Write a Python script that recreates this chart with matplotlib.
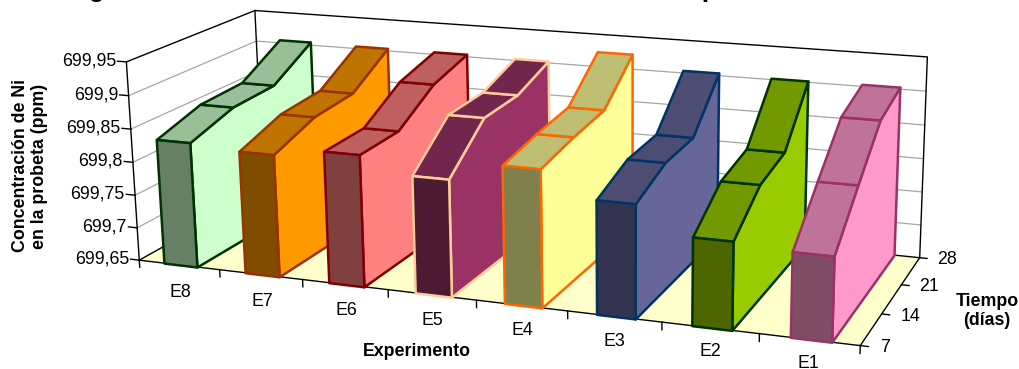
import numpy as np
import matplotlib
matplotlib.use('Agg')
import matplotlib.pyplot as plt
from matplotlib.colors import to_rgb
from mpl_toolkits.mplot3d import proj3d
from mpl_toolkits.mplot3d.art3d import Poly3DCollection

plt.rcParams['font.family'] = ['Liberation Sans', 'DejaVu Sans']

experimentos = ['E8', 'E7', 'E6', 'E5', 'E4', 'E3', 'E2', 'E1']
dias = [7, 14, 21, 28]
ticks_conc = [699.65, 699.70, 699.75, 699.80, 699.85, 699.90, 699.95]
etiquetas_conc = ['699,65', '699,7', '699,75', '699,8', '699,85', '699,9', '699,95']

# concentracion de Ni por experimento, un valor por cada tiempo de "dias"
conc_e8 = [699.838, 699.860, 699.864, 699.905]
conc_e7 = [699.832, 699.856, 699.862, 699.904]
conc_e6 = [699.844, 699.846, 699.886, 699.904]
conc_e5 = [699.821, 699.877, 699.880, 699.903]
conc_e4 = [699.848, 699.860, 699.868, 699.923]
conc_e3 = [699.812, 699.835, 699.838, 699.904]
conc_e2 = [699.774, 699.816, 699.828, 699.902]
conc_e1 = [699.768, 699.828, 699.886, 699.903]
series = [conc_e8, conc_e7, conc_e6, conc_e5, conc_e4, conc_e3, conc_e2, conc_e1]

relleno = ['#CCFFCC', '#FF9900', '#FF8080', '#993366', '#FFFF99', '#666699', '#99CC00', '#FF99CC']
borde = ['#003300', '#993300', '#800000', '#FFCC99', '#FF6600', '#003366', '#003300', '#993366']

W, H = 1020, 369
fig = plt.figure(figsize=(W / 100, H / 100), dpi=100)
s = 2.151
ax = fig.add_axes([0.505 - s / 2 * H / W, 0.536 - s / 2, s * H / W, s], projection='3d',
                  computed_zorder=False)
ax.set_proj_type('persp', focal_length=0.497)
ax.view_init(15.555, -68.384, 0.783)
ax.set_box_aspect((2.794, 1, 0.777))
ax.set_xlim(0, 8)
ax.set_ylim(7, 28)
ax.set_zlim(699.65, 699.95)
ax.set_axis_off()

z0, z1 = 699.65, 699.95
y0, y1 = 7, 28
M = ax.get_proj()


def etiqueta(x, y, z, txt, ha):
    # texto 2D colocado en la proyeccion del punto 3D
    xp, yp, _ = proj3d.proj_transform(x, y, z, M)
    ax.text2D(xp, yp, txt, transform=ax.transData, ha=ha, va='center', fontsize=12.8, zorder=100)


# suelo
suelo = Poly3DCollection([[(0, y0, z0), (8, y0, z0), (8, y1, z0), (0, y1, z0)]],
                         facecolor='#FFFFCC', edgecolor='none', zorder=1)
ax.add_collection3d(suelo)

# rejilla en las paredes
for z in ticks_conc[1:-1]:
    ax.plot([0, 0, 8], [y0, y1, y1], [z, z, z], color='#A6A6A6', lw=0.9, zorder=2)

# caja de ejes
ax.plot([0, 0, 0, 8, 8], [y0, y0, y1, y1, y1], [z0, z1, z1, z1, z0], color='k', lw=1.0, zorder=3)
ax.plot([0, 0], [y1, y1], [z0, z1], color='k', lw=1.0, zorder=3)
ax.plot([0, 0, 8, 8, 0], [y1, y0, y0, y1, y1], [z0] * 5, color='k', lw=1.0, zorder=3)

# marcas de los ejes
for z, txt in zip(ticks_conc, etiquetas_conc):
    ax.plot([-0.11, 0], [y0, y0], [z, z], color='k', lw=1.0, zorder=3)
    etiqueta(-0.13, y0, z, txt, 'right')
for i in range(9):
    ax.plot([i, i], [y0, y0], [z0, z0 - 0.011], color='k', lw=1.0, zorder=3)
for i, nombre in enumerate(experimentos):
    etiqueta(i + 0.5, y0, z0 - (0.042 - 0.0013 * i), nombre, 'center')
for d in dias:
    ax.plot([8, 8.08], [d, d], [z0, z0], color='k', lw=1.0, zorder=3)
    etiqueta(8.19, d, z0, str(d), 'left')

# cintas de area, de atras hacia delante
orden = 4
for i, vals in enumerate(series):
    xa, xb = i + 0.31, i + 0.72
    c = np.array(to_rgb(relleno[i]))
    lado = [(xb, y0, z0)] + [(xb, d, v) for d, v in zip(dias, vals)] + [(xb, y1, z0)]
    caras = [(lado, c)]
    for j in range(3):
        caras.append(([(xa, dias[j], vals[j]), (xb, dias[j], vals[j]),
                       (xb, dias[j + 1], vals[j + 1]), (xa, dias[j + 1], vals[j + 1])], c * 0.75))
    caras.append(([(xa, y0, z0), (xb, y0, z0), (xb, y0, vals[0]), (xa, y0, vals[0])], c * 0.5))
    for verts, color in caras:
        poly = Poly3DCollection([verts], facecolor=color, edgecolor=borde[i], linewidth=1.8, zorder=orden)
        ax.add_collection3d(poly)
        orden += 1

# el area de los ejes es mas estrecha que la caja proyectada
for artista in ax.get_children():
    artista.set_clip_on(False)


def pos(x, y):
    return x / W, 1 - y / H


fig.text(*pos(59, -4), 'Migración de Ni: concentración de Ni medida en la probeta', fontsize=19.2,
         fontweight='bold', ha='left', va='baseline')
fig.text(*pos(30, 166), 'Concentración de Ni\nen la probeta (ppm)', rotation=90, fontsize=12.8, fontweight='bold',
         ha='center', va='center', multialignment='center', linespacing=1.2)
fig.text(*pos(417, 352), 'Experimento', fontsize=12.8, fontweight='bold', ha='center', va='center')
fig.text(*pos(987, 311), 'Tiempo\n(días)', fontsize=12.8, fontweight='bold', ha='center', va='center',
         multialignment='center', linespacing=1.2)

fig.savefig('out.png', dpi=100)
